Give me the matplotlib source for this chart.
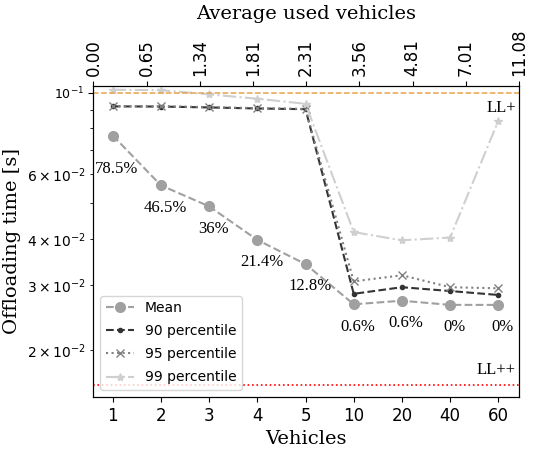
import numpy as np
import matplotlib.pyplot as plt

vehicles = ["1", "2", "3", "4", "5", "10", "20", "40", "60"]
avg_used = ["0.00", "0.65", "1.34", "1.81", "2.31", "3.56", "4.81", "7.01", "11.08"]

mean = [0.0765, 0.0560, 0.0491, 0.0398, 0.0342, 0.0266, 0.0272, 0.0265, 0.0265]
p90 = [0.0918, 0.0917, 0.0912, 0.0906, 0.0902, 0.0284, 0.0296, 0.0289, 0.0282]
p95 = [0.0920, 0.0919, 0.0914, 0.0908, 0.0904, 0.0307, 0.0319, 0.0296, 0.0294]
p99 = [0.1019, 0.1016, 0.0990, 0.0963, 0.0933, 0.0418, 0.0397, 0.0404, 0.0839]
pct_labels = ["78.5%", "46.5%", "36%", "21.4%", "12.8%", "0.6%", "0.6%", "0%", "0%"]

ll_plus = 0.1
ll_plusplus = 0.0161

x = np.arange(len(vehicles))

fig, ax = plt.subplots(figsize=(5.34, 4.51), dpi=100)
ax.plot(x, mean, "--o", color="#a0a0a0", markersize=7, label="Mean")
ax.plot(x, p90, "--.", color="#333333", markersize=6, label="90 percentile")
ax.plot(x, p95, ":x", color="#808080", markersize=6, label="95 percentile")
ax.plot(x, p99, "-.*", color="#cfcfcf", markersize=6, label="99 percentile")

ax.axhline(ll_plus, color="#e9a24c", linestyle="--", linewidth=1.1)
ax.axhline(ll_plusplus, color="red", linestyle=":", linewidth=1.2)
ax.text(8.36, 0.0955, "LL+", ha="right", va="top", family="Liberation Serif", fontsize=12)
ax.text(8.36, 0.0168, "LL++", ha="right", va="bottom", family="Liberation Serif", fontsize=12)

for i, lab in enumerate(pct_labels):
    dy = -24 if i == 0 else -16
    ax.annotate(lab, (x[i], mean[i]), xytext=(3, dy), textcoords="offset points",
                ha="center", va="center", family="Liberation Serif", fontsize=12)

ax.set_yscale("log")
ax.set_ylim(0.0149, 0.1045)
ax.set_xlim(-0.4, 8.43)
ax.set_xticks(x)
ax.set_xticklabels(vehicles, fontsize=12)
ax.tick_params(axis="y", labelsize=9)
ax.set_xlabel("Vehicles", family="DejaVu Serif", fontsize=14)
ax.set_ylabel("Offloading time [s]", family="DejaVu Serif", fontsize=14)

ax2 = ax.twiny()
ax2.set_xlim(0, 1)
ax2.set_xticks(np.linspace(0, 1, len(avg_used)))
ax2.set_xticklabels(avg_used, rotation=90, fontsize=12)
ax2.set_xlabel("Average used vehicles", family="DejaVu Serif", fontsize=14, labelpad=7)

ax.legend(loc="lower left", fontsize=10, handlelength=2.0, labelspacing=0.65)

fig.subplots_adjust(left=0.175, right=0.972, top=0.81, bottom=0.12)
fig.savefig("out.png")
